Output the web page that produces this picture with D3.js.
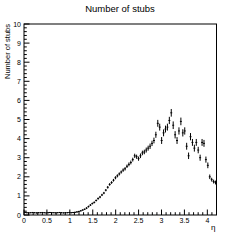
<!DOCTYPE html>
<html>
<head>
<meta charset="utf-8">
<script src="https://cdn.jsdelivr.net/npm/d3@7"></script>
<style>
  body { margin: 0; background: #fff; }
  text { font-family: "Liberation Sans", Arial, sans-serif; fill: #000; }
</style>
</head>
<body>
<div id="chart"></div>
<script>
// histogram: 100 bins over eta 0 - 4.2
var etaMin = 0, etaMax = 4.2;
var binWidth = 0.042;

var stubs = [
  0.13, 0.12, 0.11, 0.12, 0.13, 0.12, 0.11, 0.12, 0.12, 0.13,
  0.12, 0.11, 0.12, 0.13, 0.12, 0.12, 0.11, 0.12, 0.13, 0.12,
  0.11, 0.12, 0.12, 0.13, 0.12, 0.13, 0.14, 0.16, 0.18, 0.22,
  0.26, 0.30, 0.36, 0.44, 0.52, 0.60, 0.66, 0.76, 0.86, 0.94,
  1.05, 1.15, 1.30, 1.45, 1.60, 1.70, 1.82, 1.95, 2.05, 2.15,
  2.25, 2.35, 2.42, 2.55, 2.65, 2.75, 2.90, 3.10, 3.05, 2.95,
  3.10, 3.25, 3.30, 3.40, 3.50, 3.60, 3.75, 3.90, 4.20, 4.80,
  4.60, 3.90, 4.30, 4.50, 4.60, 4.95, 5.35, 4.70, 4.20, 3.90,
  4.40, 4.90, 4.30, 4.40, 3.60, 3.10, 4.10, 3.80, 3.50, 3.80,
  3.40, 3.00, 3.80, 3.75, 2.90, 2.60, 2.00, 1.85, 1.75, 1.70
];

var errors = [
  0.03, 0.03, 0.03, 0.03, 0.03, 0.03, 0.03, 0.03, 0.03, 0.03,
  0.03, 0.03, 0.03, 0.03, 0.03, 0.03, 0.03, 0.03, 0.03, 0.03,
  0.03, 0.03, 0.03, 0.03, 0.03, 0.03, 0.03, 0.04, 0.04, 0.04,
  0.04, 0.04, 0.05, 0.05, 0.05, 0.05, 0.05, 0.05, 0.06, 0.06,
  0.06, 0.06, 0.06, 0.07, 0.07, 0.07, 0.07, 0.08, 0.08, 0.08,
  0.08, 0.09, 0.09, 0.09, 0.10, 0.10, 0.10, 0.11, 0.11, 0.11,
  0.12, 0.12, 0.12, 0.13, 0.13, 0.14, 0.14, 0.15, 0.16, 0.18,
  0.18, 0.18, 0.18, 0.18, 0.18, 0.19, 0.20, 0.20, 0.19, 0.18,
  0.19, 0.20, 0.19, 0.19, 0.18, 0.17, 0.19, 0.18, 0.18, 0.18,
  0.17, 0.16, 0.18, 0.18, 0.16, 0.15, 0.12, 0.10, 0.10, 0.10
];

var xTicks = [0, 0.5, 1, 1.5, 2, 2.5, 3, 3.5, 4];
var yTicks = [0, 1, 2, 3, 4, 5, 6, 7, 8, 9, 10];

var width = 240, height = 240;
var frameLeft = 24, frameRight = 216.5, frameTop = 24, frameBottom = 215;

var svg = d3.select('#chart').append('svg')
    .attr('width', width)
    .attr('height', height);

var x = d3.scaleLinear().domain([etaMin, etaMax]).range([frameLeft, frameRight]);
var y = d3.scaleLinear().domain([0, 10]).range([frameBottom, frameTop]);

// title
svg.append('text')
    .attr('x', 120).attr('y', 12)
    .attr('text-anchor', 'middle')
    .style('font-size', '9.5px')
    .text('Number of stubs');

// frame
svg.append('rect')
    .attr('x', frameLeft).attr('y', frameTop)
    .attr('width', frameRight - frameLeft).attr('height', frameBottom - frameTop)
    .attr('fill', 'none')
    .attr('stroke', '#000')
    .attr('stroke-width', 1);

// x axis ticks (inward)
var xMinor = d3.range(0, 42).map(function(i) { return i * 0.1; });
svg.append('g').selectAll('line').data(xMinor).enter().append('line')
    .attr('x1', function(d) { return x(d); })
    .attr('x2', function(d) { return x(d); })
    .attr('y1', frameBottom)
    .attr('y2', function(d, i) { return i % 5 === 0 ? frameBottom - 5.5 : frameBottom - 2.8; })
    .attr('stroke', '#000');

svg.append('g').selectAll('text').data(xTicks).enter().append('text')
    .attr('x', function(d) { return x(d); })
    .attr('y', frameBottom + 7.5)
    .attr('text-anchor', 'middle')
    .style('font-size', '7px')
    .text(function(d) { return d; });

// y axis ticks (inward)
var yMinor = d3.range(0, 51).map(function(i) { return i * 0.2; });
svg.append('g').selectAll('line').data(yMinor).enter().append('line')
    .attr('y1', function(d) { return y(d); })
    .attr('y2', function(d) { return y(d); })
    .attr('x1', frameLeft)
    .attr('x2', function(d, i) { return i % 5 === 0 ? frameLeft + 5.5 : frameLeft + 2.8; })
    .attr('stroke', '#000');

svg.append('g').selectAll('text').data(yTicks).enter().append('text')
    .attr('x', frameLeft - 3)
    .attr('y', function(d) { return y(d) + 2.5; })
    .attr('text-anchor', 'end')
    .style('font-size', '7px')
    .text(function(d) { return d; });

// axis titles
svg.append('text')
    .attr('x', frameRight - 1)
    .attr('y', 230)
    .attr('text-anchor', 'end')
    .style('font-size', '8px')
    .text('η');

svg.append('text')
    .attr('transform', 'translate(10,' + frameTop + ') rotate(-90)')
    .attr('text-anchor', 'end')
    .style('font-size', '7.5px')
    .text('Number of stubs');

// data points with error bars
var pts = svg.append('g')
    .attr('stroke', '#000')
    .attr('stroke-width', 1);

stubs.forEach(function(v, i) {
    var lo = etaMin + i * binWidth;
    var c = lo + binWidth / 2;
    pts.append('line')
        .attr('x1', x(lo)).attr('x2', x(lo + binWidth))
        .attr('y1', y(v)).attr('y2', y(v));
    pts.append('line')
        .attr('x1', x(c)).attr('x2', x(c))
        .attr('y1', y(v - errors[i])).attr('y2', y(v + errors[i]));
});
</script>
</body>
</html>
